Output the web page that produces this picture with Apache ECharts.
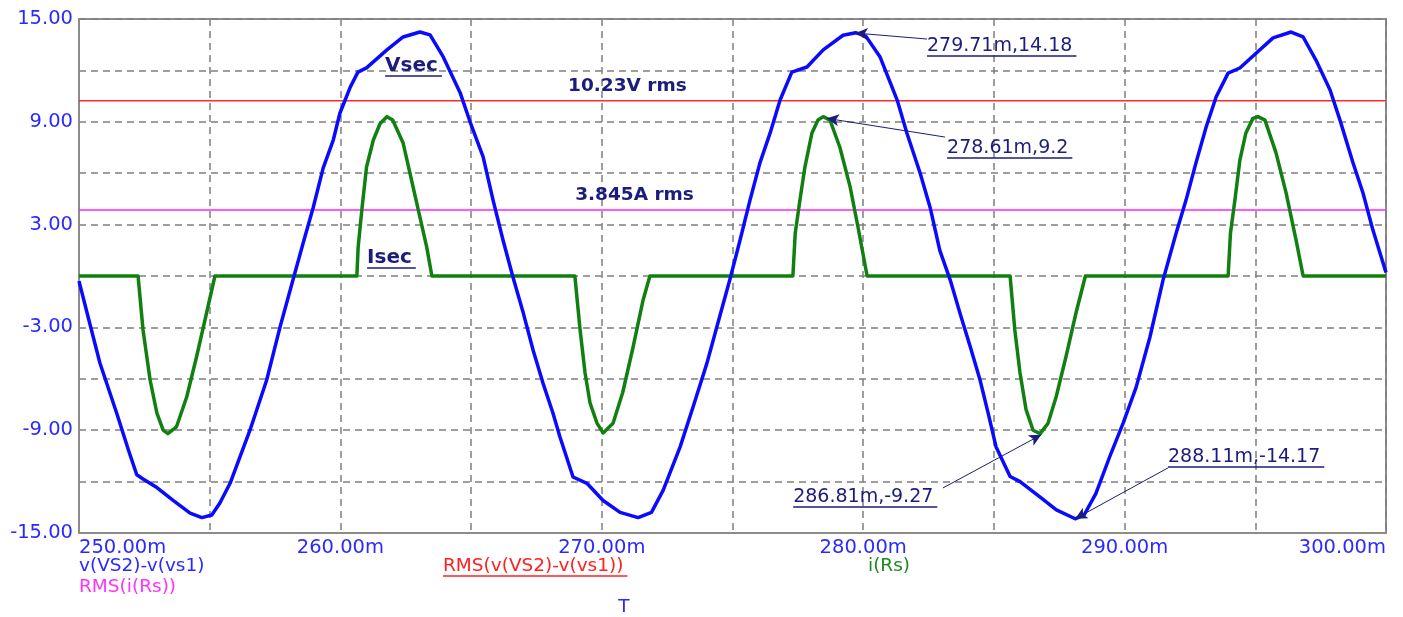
<!DOCTYPE html>
<html style="height: 100%;">
<head>
<meta charset="utf-8">
<title>Vsec / Isec</title>
<script src="https://cdn.jsdelivr.net/npm/echarts@6/dist/echarts.min.js"></script>
</head>
<body style="height: 100%; margin: 0; background: #fff;">
<div id="container" style="width: 1403px; height: 617px;"></div>
<script type="text/javascript">
// v(VS2)-v(vs1)  (ms, V)
var vsecT = [250.0, 250.4, 250.8, 251.44, 251.9, 252.21, 252.45, 252.98, 253.6, 254.25, 254.7, 255.08, 255.39, 255.78, 256.54, 257.18, 257.69, 258.19, 258.57, 258.96, 259.34, 259.73, 259.98, 260.37, 260.67, 261.0, 261.78, 262.4, 263.04, 263.43, 263.93, 264.58, 264.96, 265.46, 265.84, 266.22, 266.6, 267.0, 267.37, 267.75, 268.13, 268.4, 268.9, 269.43, 270.05, 270.7, 271.39, 271.9, 272.35, 273.0, 273.5, 274.02, 274.4, 274.9, 275.29, 275.67, 276.05, 276.44, 276.82, 277.27, 277.85, 278.47, 279.23, 279.71, 280.1, 280.64, 281.3, 281.67, 282.18, 282.56, 282.93, 283.33, 283.7, 284.09, 284.47, 284.78, 285.08, 285.62, 286.0, 286.77, 287.39, 288.11, 288.45, 288.9, 289.43, 289.94, 290.44, 290.97, 291.47, 291.97, 292.35, 292.73, 293.12, 293.5, 293.96, 294.41, 295.03, 295.68, 296.37, 296.83, 297.32, 297.86, 298.24, 298.74, 299.12, 299.5, 300.0];
var vsecV = [-0.3, -2.7, -5.08, -8.0, -10.2, -11.6, -11.85, -12.35, -13.1, -13.84, -14.1, -13.95, -13.25, -12.1, -9.0, -6.07, -2.98, -0.2, 1.9, 4.0, 6.3, 7.95, 9.5, 11.0, 11.9, 12.15, 13.2, 13.95, 14.24, 14.07, 12.8, 10.7, 9.0, 6.95, 4.43, 2.1, -0.06, -2.18, -4.32, -6.25, -8.0, -9.4, -11.73, -12.1, -13.1, -13.8, -14.1, -13.8, -12.5, -9.96, -7.6, -5.1, -2.98, -0.2, 2.1, 4.43, 6.6, 8.35, 10.27, 11.9, 12.2, 13.2, 14.05, 14.2, 14.0, 12.8, 10.27, 8.35, 6.0, 4.0, 1.5, -0.24, -2.16, -4.1, -6.07, -8.0, -9.96, -11.7, -12.0, -12.9, -13.65, -14.17, -13.95, -12.7, -10.55, -8.6, -6.5, -3.56, -0.24, 2.5, 4.43, 6.6, 8.7, 10.45, 11.84, 12.14, 13.0, 13.9, 14.24, 13.95, 12.6, 10.86, 9.1, 6.6, 4.84, 2.68, 0.2];

// i(Rs)  (ms, A)
var isecT = [250.0, 252.26, 252.45, 252.72, 252.98, 253.22, 253.4, 253.73, 254.12, 254.5, 254.88, 255.2, 260.63, 260.68, 260.83, 261.0, 261.26, 261.52, 261.78, 262.0, 262.4, 262.78, 263.04, 263.3, 263.5, 268.97, 269.17, 269.36, 269.55, 269.82, 270.05, 270.43, 270.8, 271.2, 271.58, 271.84, 277.31, 277.4, 277.58, 277.77, 278.04, 278.27, 278.47, 278.73, 279.11, 279.5, 279.8, 280.15, 285.62, 285.8, 286.0, 286.23, 286.5, 286.77, 287.07, 287.38, 287.76, 288.14, 288.5, 293.96, 294.05, 294.22, 294.41, 294.64, 294.91, 295.1, 295.37, 295.79, 296.18, 296.56, 296.83, 300.0];
var isecV = [0, 0, -3.15, -6.07, -8.0, -9.0, -9.2, -8.8, -7.06, -4.7, -2.16, 0, 0, 1.7, 4.0, 6.36, 7.94, 8.9, 9.3, 9.1, 7.76, 5.2, 3.45, 1.7, 0, 0, -3.15, -5.66, -7.41, -8.6, -9.16, -8.6, -6.8, -4.13, -1.4, 0, 0, 2.5, 4.43, 6.36, 8.35, 9.1, 9.3, 9.1, 7.5, 5.2, 2.86, 0, 0, -3.15, -5.66, -7.8, -9.0, -9.2, -8.6, -7.06, -4.7, -2.16, 0, 0, 2.5, 4.43, 6.77, 8.35, 9.2, 9.3, 9.1, 7.2, 4.84, 2.1, 0, 0];

// RMS values
var rmsT = [250, 300];
var rmsVsec = [10.23, 10.23];
var rmsIsec = [3.845, 3.845];

// cursor readouts: point, label anchor
var cursorPts = [[279.71, 14.18], [278.61, 9.2], [286.81, -9.27], [288.11, -14.17]];
var cursorEnds = [[282.44, 13.83], [283.13, 8.11], [283.05, -12.37], [291.66, -11.2]];
var cursorText = ['279.71m,14.18', '278.61m,9.2', '286.81m,-9.27', '288.11m,-14.17'];
var cursorTextAt = [[282.44, 13.42], [283.21, 7.47], [277.32, -12.9], [291.66, -10.56]];

// plot labels
var noteText = ['Vsec', 'Isec', '10.23V rms', '3.845A rms'];
var noteAt = [[261.71, 12.26], [261.02, 1.05], [268.71, 11.06], [268.98, 4.73]];
var noteUnderline = [true, true, false, false];

function zip(a, b) {
  var out = [];
  for (var i = 0; i < a.length; i++) out.push([a[i], b[i]]);
  return out;
}

var axisBlue = '#2a2aff';
var navy = '#1c1c7c';
var gridGrey = '#8c8c8c';
var fam = '"DejaVu Sans", sans-serif';

var dom = document.getElementById('container');
var myChart = echarts.init(dom);

var leaders = [];
for (var i = 0; i < cursorPts.length; i++) {
  leaders.push([{ coord: cursorPts[i] }, { coord: cursorEnds[i] }]);
}

var option = {
  animation: false,
  backgroundColor: '#ffffff',
  grid: {
    left: 79, right: 17, top: 19, bottom: 84,
    show: true, borderColor: gridGrey, borderWidth: 2, backgroundColor: 'transparent'
  },
  xAxis: {
    type: 'value', min: 250, max: 300, interval: 5,
    axisLine: { show: true, onZero: false, lineStyle: { color: gridGrey, width: 2 } },
    axisTick: { show: false },
    splitLine: { show: true, lineStyle: { color: '#7f7f7f', width: 1.5, type: [7, 5] } },
    axisLabel: {
      color: axisBlue, fontFamily: fam, fontSize: 19.5, margin: 5,
      alignMinLabel: 'left', alignMaxLabel: 'right',
      formatter: function (v) { return v % 10 === 0 ? v.toFixed(2) + 'm' : ''; }
    }
  },
  yAxis: {
    type: 'value', min: -15, max: 15, interval: 3,
    axisLine: { show: true, onZero: false, lineStyle: { color: gridGrey, width: 2 } },
    axisTick: { show: false },
    splitLine: { show: true, lineStyle: { color: '#7f7f7f', width: 1.5, type: [7, 5] } },
    axisLabel: {
      color: axisBlue, fontFamily: fam, fontSize: 19.5, margin: 6,
      formatter: function (v) { return ((v + 15) % 6 === 0) ? v.toFixed(2) : ''; }
    }
  },
  series: [
    {
      name: 'RMS(v(VS2)-v(vs1))', type: 'line', data: zip(rmsT, rmsVsec),
      symbol: 'none', lineStyle: { color: '#ff2a2a', width: 1.5 }
    },
    {
      name: 'RMS(i(Rs))', type: 'line', data: zip(rmsT, rmsIsec),
      symbol: 'none', lineStyle: { color: '#ff22ff', width: 1.5 }
    },
    {
      name: 'i(Rs)', type: 'line', data: zip(isecT, isecV),
      symbol: 'none', lineStyle: { color: '#118011', width: 3.5, join: 'round' }
    },
    {
      name: 'v(VS2)-v(vs1)', type: 'line', data: zip(vsecT, vsecV),
      symbol: 'none', lineStyle: { color: '#0a0aff', width: 3.5, join: 'round' },
      markLine: {
        silent: true, animation: false,
        symbol: ['arrow', 'none'], symbolSize: [9, 12],
        label: { show: false },
        lineStyle: { color: navy, width: 1, type: 'solid' },
        emphasis: { disabled: true },
        data: leaders
      }
    }
  ]
};
myChart.setOption(option);

// text labels placed at data positions, underlines sized from the text
var ctx = document.createElement('canvas').getContext('2d');
function textW(font, s) { ctx.font = font; return ctx.measureText(s).width; }
function px(p) { return myChart.convertToPixel({ xAxisIndex: 0, yAxisIndex: 0 }, p); }

var g = [];
function addText(s, x, y, font, color, underline, align) {
  align = align || 'left';
  g.push({ type: 'text', silent: true, z: 100,
    style: { text: s, x: x, y: y, font: font, fill: color, align: align, verticalAlign: 'middle' } });
  if (underline) {
    var w = textW(font, s);
    var x0 = align === 'left' ? x : x - w / 2;
    g.push({ type: 'line', silent: true, z: 100,
      shape: { x1: x0, y1: y + 10, x2: x0 + w + 4, y2: y + 10 },
      style: { stroke: color, lineWidth: 1.5 } });
  }
}

for (var i = 0; i < noteText.length; i++) {
  var p = px(noteAt[i]);
  var f = i < 2 ? 'bold 20px ' + fam : 'bold 18.5px ' + fam;
  addText(noteText[i], p[0], p[1], f, navy, noteUnderline[i]);
}
for (var i = 0; i < cursorText.length; i++) {
  var p = px(cursorTextAt[i]);
  addText(cursorText[i], p[0], p[1], '19px ' + fam, navy, true);
}

// trace names under the axis
addText('v(VS2)-v(vs1)', 79, 566, '18.5px ' + fam, axisBlue, false);
addText('RMS(i(Rs))', 79, 587, '18.5px ' + fam, '#ff33ff', false);
addText('RMS(v(VS2)-v(vs1))', 443, 566, '18.5px ' + fam, '#ff2020', true);
addText('i(Rs)', 868, 566, '18.5px ' + fam, '#1a8a1a', false);
addText('T', 624, 607, '18.5px ' + fam, axisBlue, false, 'center');

myChart.setOption({ graphic: g });

window.onresize = function () { myChart.resize(); };
</script>
</body>
</html>
